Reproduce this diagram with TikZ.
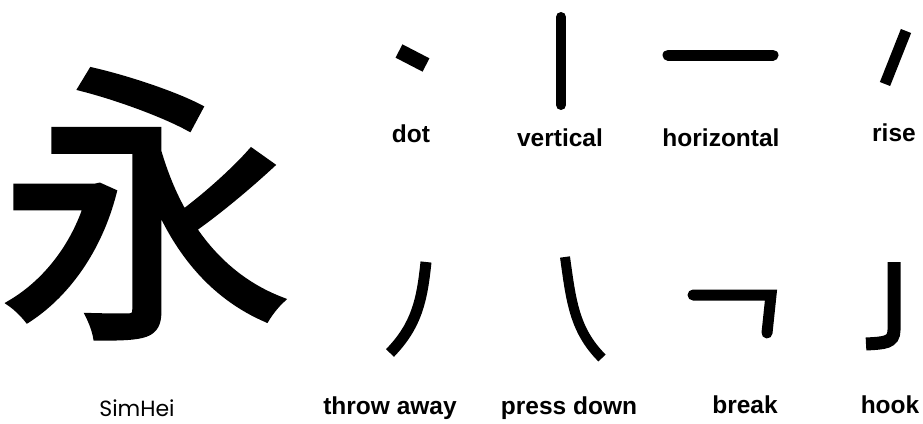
\documentclass[tikz,border=0pt]{standalone}
\usepackage{fontspec}
\setmainfont{Liberation Sans}
\newfontfamily\cjkfont[FakeBold=2]{Noto Sans CJK SC}
\newfontfamily\geofont{Poppins}
\begin{document}
\begin{tikzpicture}[x=1pt, y=-1pt,
			stroke/.style={line width=#1, line cap=butt, line join=miter},
			lbl/.style={anchor=base, inner sep=0pt, font=\fontsize{24.5}{28}\bfseries\selectfont},
			font=\normalsize]
			% Bildbereich
			\useasboundingbox (0,0) rectangle (923,423);
			% Zeichen
			\node[inner sep=0pt] (yong) at (146,204) {\fontsize{292}{292}\cjkfont 永};
			\node[anchor=base, inner sep=0pt, font=\fontsize{22}{24}\geofont\selectfont] (font) at (137,416) {SimHei};
			% Striche
			\draw[stroke=15pt, rounded corners=2pt] (399,51) -- (426,65);
			\draw[stroke=10pt, line cap=round] (561,17) -- (561,105);
			\draw[stroke=11pt, line cap=round] (668,55) -- (773,55);
			\draw[stroke=11pt] (906,31) -- (885,84);
			\draw[stroke=11pt] (426,262) .. controls (422,300) and (417,325) .. (390,353);
			\draw[stroke=10pt] (565,257) .. controls (571,300) and (574,330) .. (602,358);
			\draw[stroke=11pt, line cap=round] (693,295) -- (771,295) -- (767,333);
			\draw[stroke=13pt] (894,262) -- (894,330) .. controls (894,343) and (884,343) .. (866,344);
			% Beschriftung
			\foreach \x/\y/\name/\label in {411/142/dot/dot,560/146/vertical/vertical,721/146/horizontal/horizontal,894/141/rise/rise,390/414/throw/throw away,569/414/press/press down,745/413/break/break,890/413/hook/hook}
				\node[lbl] (lbl\name) at (\x,\y) {\label};
		\end{tikzpicture}
\end{document}
